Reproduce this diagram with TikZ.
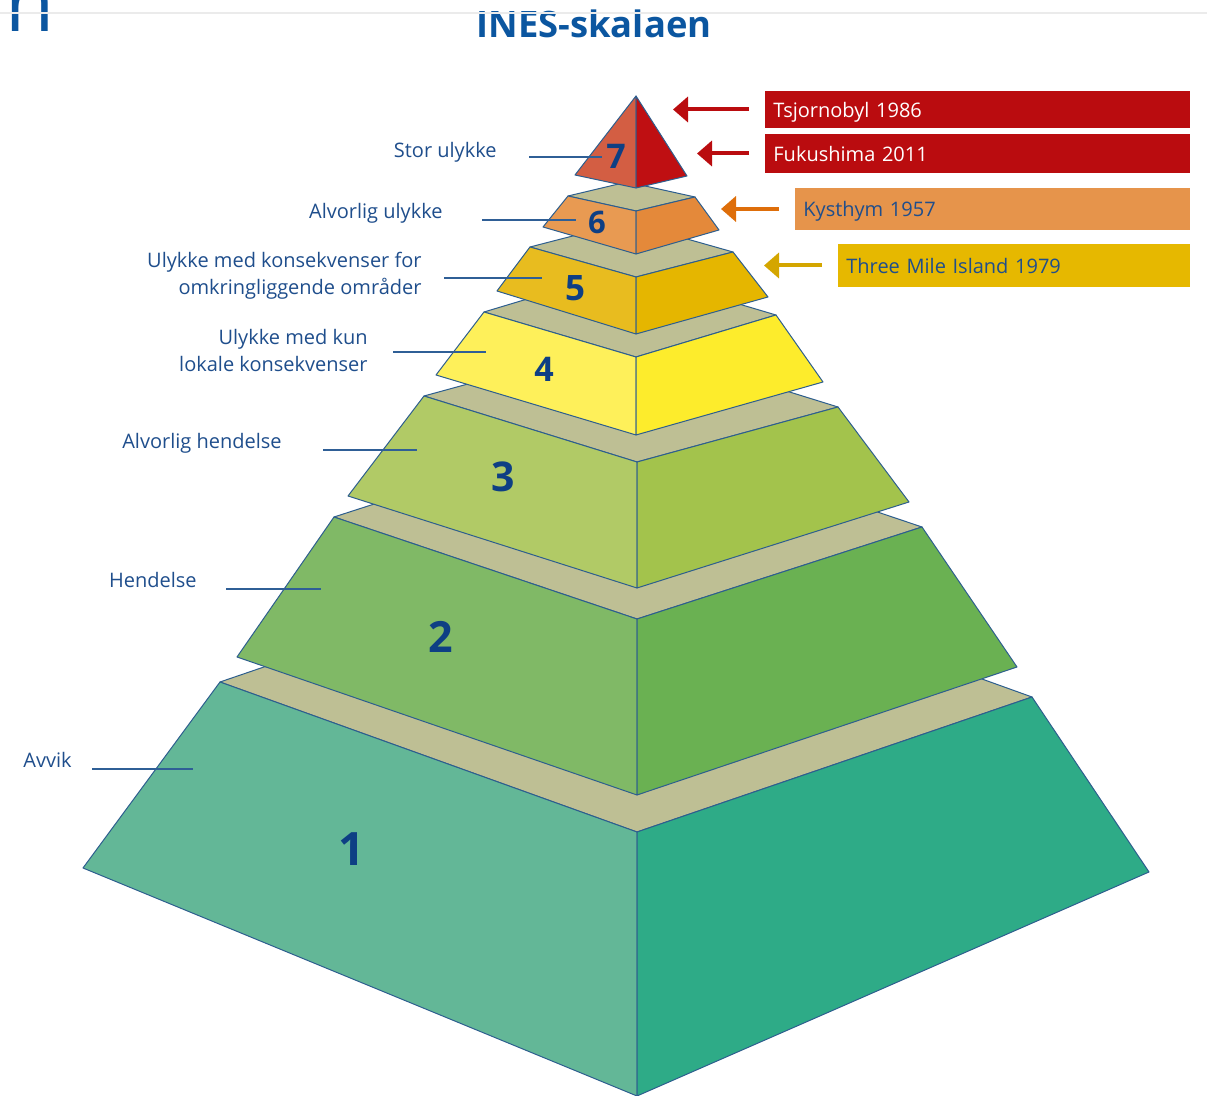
\documentclass[tikz,border=0pt]{standalone}
\usepackage{fontspec}
\setmainfont{Open Sans}
\usetikzlibrary{calc,arrows.meta}
\definecolor{edgeblue}{HTML}{2D5E8E}
\definecolor{leaderblue}{HTML}{2F5F96}
\definecolor{labelblue}{HTML}{1F4E8C}
\definecolor{numblue}{HTML}{0E3F84}
\definecolor{titleblue}{HTML}{0B56A0}
\definecolor{topgrey}{HTML}{BEBF94}
\definecolor{lface1}{HTML}{63B797}\definecolor{rface1}{HTML}{2EAB87}
\definecolor{lface2}{HTML}{80B966}\definecolor{rface2}{HTML}{6AB152}
\definecolor{lface3}{HTML}{B1CA66}\definecolor{rface3}{HTML}{A3C34C}
\definecolor{lface4}{HTML}{FEF05A}\definecolor{rface4}{HTML}{FDEC2C}
\definecolor{lface5}{HTML}{E8BC1F}\definecolor{rface5}{HTML}{E5B600}
\definecolor{lface6}{HTML}{E89A52}\definecolor{rface6}{HTML}{E4893A}
\definecolor{lface7}{HTML}{D35E43}\definecolor{rface7}{HTML}{BF0F12}
\definecolor{eventred}{HTML}{BA0C0F}
\definecolor{eventorange}{HTML}{E6944B}
\definecolor{arroworange}{HTML}{DE6E0A}
\definecolor{eventyellow}{HTML}{E6B800}
\definecolor{arrowyellow}{HTML}{D4A600}
\tikzset{
  face/.style={draw=edgeblue, line width=.5pt, line join=round},
  topface/.style={face, fill=topgrey},
  levelnum/.style={text=numblue, inner sep=0pt},
  levellabel/.style={text=labelblue, inner sep=0pt, align=right, font=\fontsize{10}{13.5}\selectfont},
  leader/.style={draw=leaderblue, line width=1pt},
  eventbox/.style={anchor=west, inner sep=0pt, inner xsep=4pt, align=left, text height=10pt, text depth=2pt, font=\fontsize{10}{12}\selectfont},
  eventarrow/.style={line width=2pt, shorten <=8pt, -{Triangle[length=7.5pt,width=12.5pt]}}
}
\begin{document}
\begin{tikzpicture}[x=.5pt, y=-.5pt]
  \useasboundingbox (0,0) rectangle (1207,1096);
  \foreach \i/\ptl/\ptf/\ptr/\pbl/\pbf/\pbr in {
      1/{220,682}/{637,832}/{1032,697}/{83,868}/{637,1096}/{1149,872},
      2/{334,517}/{637,619}/{922,527}/{237,657}/{637,795}/{1017,667},
      3/{424,396}/{637,462}/{838,407}/{348,496}/{637,588}/{909,502},
      4/{484,312}/{636,357}/{776,315}/{436,375}/{636,435}/{823,382},
      5/{530,247}/{636,277}/{733,252}/{497,291}/{636,334}/{768,297},
      6/{568,196}/{636,211}/{695,197}/{543,227}/{636,254}/{719,230}}{
    \coordinate (tl\i) at (\ptl);
    \coordinate (tf\i) at (\ptf);
    \coordinate (tr\i) at (\ptr);
    \coordinate (bl\i) at (\pbl);
    \coordinate (bf\i) at (\pbf);
    \coordinate (br\i) at (\pbr);
    \filldraw[topface] (tl\i) -- (tf\i) -- (tr\i) -- ($(tl\i)+(tr\i)-(tf\i)$) -- cycle;
    \filldraw[face, fill=lface\i] (tl\i) -- (tf\i) -- (bf\i) -- (bl\i) -- cycle;
    \filldraw[face, fill=rface\i] (tf\i) -- (tr\i) -- (br\i) -- (bf\i) -- cycle;
  }
  \coordinate (apex) at (636,96);
  \coordinate (bl7) at (575,175);
  \coordinate (bf7) at (636,188);
  \coordinate (br7) at (687,176);
  \filldraw[face, fill=lface7] (apex) -- (bl7) -- (bf7) -- cycle;
  \filldraw[face, fill=rface7] (apex) -- (bf7) -- (br7) -- cycle;

  \foreach \i/\pos/\sz in {1/{352,849}/23, 2/{441,637}/21.5, 3/{503,477}/20.5, 4/{544,369}/17,
      5/{575,288}/17.5, 6/{597,222}/15.5, 7/{616,156}/17}
    \node[levelnum, font=\bfseries\fontsize{\sz}{\sz}\selectfont] (num\i) at (\pos) {\i};

  \node[levellabel, anchor=base east] (lab7) at (497,158) {Stor ulykke};
  \node[levellabel, anchor=base east] (lab6) at (443,219) {Alvorlig ulykke};
  \node[levellabel, anchor=east] (lab5) at (422,276) {Ulykke med konsekvenser for\\omkringliggende områder};
  \node[levellabel, anchor=east] (lab4) at (368,351) {Ulykke med kun\\lokale konsekvenser};
  \node[levellabel, anchor=base east] (lab3) at (282,449) {Alvorlig hendelse};
  \node[levellabel, anchor=base east] (lab2) at (197,588) {Hendelse};
  \node[levellabel, anchor=base east] (lab1) at (72,768) {Avvik};
  \foreach \i/\ya/\xa/\xb in {7/157/529/602, 6/220/482/576, 5/278/444/542, 4/352/393/486,
      3/450/323/417, 2/589/226/321, 1/769/92/193}{
    \coordinate (ls\i) at (\xa,\ya);
    \coordinate (le\i) at (\xb,\ya);
    \draw[leader] (ls\i) -- (le\i);
  }

  \node[eventbox, fill=eventred, text=white, text width=204.5pt, minimum height=18.5pt] (ev1) at (765,109.5) {Tsjornobyl 1986};
  \node[eventbox, fill=eventred, text=white, text width=204.5pt, minimum height=19.5pt] (ev2) at (765,153.5) {Fukushima 2011};
  \node[eventbox, fill=eventorange, text=labelblue, text width=189.5pt, minimum height=21pt] (ev3) at (795,209) {Kysthym 1957};
  \node[eventbox, fill=eventyellow, text=labelblue, text width=168pt, minimum height=21.5pt] (ev4) at (838,265.5) {Three Mile Island 1979};
  \coordinate (tip1) at (673,0);
  \coordinate (tip2) at (697,0);
  \coordinate (tip3) at (721,0);
  \coordinate (tip4) at (764,0);
  \draw[eventarrow, eventred] (ev1) -- (ev1 -| tip1);
  \draw[eventarrow, eventred] (ev2) -- (ev2 -| tip2);
  \draw[eventarrow, arroworange] (ev3) -- (ev3 -| tip3);
  \draw[eventarrow, arrowyellow] (ev4) -- (ev4 -| tip4);

  \node[anchor=base, inner sep=0pt, text=titleblue, font=\bfseries\fontsize{18.2}{20}\selectfont] (title) at (594,38) {INES-skalaen};
  \node[anchor=base west, inner sep=0pt, text=titleblue, font=\fontsize{40}{40}\selectfont] (corner) at (5,32) {n};
  \draw[black!8, line width=.6pt] (0,13) -- (1207,13);
\end{tikzpicture}
\end{document}
